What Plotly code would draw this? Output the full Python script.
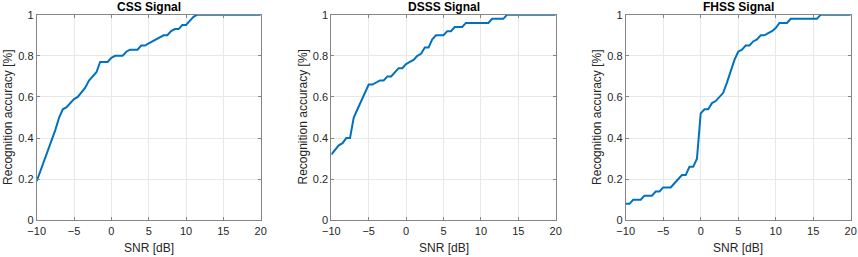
import plotly.graph_objects as go

snr = [-10, -9.5, -9, -8.5, -8, -7.5, -7, -6.5, -6, -5.5, -5, -4.5, -4, -3.5, -3, -2.5, -2, -1.5, -1, -0.5,
       0, 0.5, 1, 1.5, 2, 2.5, 3, 3.5, 4, 4.5, 5, 5.5, 6, 6.5, 7, 7.5, 8, 8.5, 9, 9.5,
       10, 10.5, 11, 11.5, 12, 12.5, 13, 13.5, 14, 14.5, 15, 15.5, 16, 16.5, 17, 17.5, 18, 18.5, 19, 19.5, 20]

css = [0.19, 0.24, 0.29, 0.34, 0.385, 0.44, 0.50, 0.54, 0.55, 0.57, 0.59, 0.60, 0.62, 0.645, 0.68, 0.70, 0.72, 0.77, 0.77, 0.77,
       0.79, 0.80, 0.80, 0.80, 0.82, 0.83, 0.83, 0.83, 0.85, 0.85, 0.86, 0.87, 0.88, 0.89, 0.90, 0.90, 0.92, 0.93, 0.93, 0.95,
       0.95, 0.97, 0.99, 1, 1, 1, 1, 1, 1, 1, 1, 1, 1, 1, 1, 1, 1, 1, 1, 1, 1]

dsss = [0.32, 0.345, 0.365, 0.375, 0.40, 0.40, 0.50, 0.54, 0.58, 0.62, 0.66, 0.66, 0.67, 0.68, 0.68, 0.70, 0.70, 0.72, 0.74, 0.74,
        0.76, 0.77, 0.78, 0.80, 0.81, 0.84, 0.84, 0.88, 0.90, 0.90, 0.90, 0.92, 0.92, 0.94, 0.94, 0.94, 0.96, 0.96, 0.96, 0.96,
        0.96, 0.96, 0.96, 0.98, 0.98, 0.98, 0.98, 1, 1, 1, 1, 1, 1, 1, 1, 1, 1, 1, 1, 1, 1]

fhss = [0.08, 0.08, 0.10, 0.10, 0.10, 0.12, 0.12, 0.12, 0.14, 0.14, 0.16, 0.16, 0.16, 0.18, 0.20, 0.22, 0.22, 0.26, 0.26, 0.30,
        0.52, 0.54, 0.54, 0.57, 0.58, 0.60, 0.62, 0.67, 0.73, 0.78, 0.82, 0.83, 0.85, 0.85, 0.87, 0.88, 0.90, 0.90, 0.91, 0.92,
        0.935, 0.96, 0.96, 0.96, 0.98, 0.98, 0.98, 0.98, 0.98, 0.98, 0.98, 0.98, 1, 1, 1, 1, 1, 1, 1, 1, 1]

titles = ["CSS Signal", "DSSS Signal", "FHSS Signal"]
series = [css, dsss, fhss]
x_ticks = [-10, -5, 0, 5, 10, 15, 20]
y_ticks = [0, 0.2, 0.4, 0.6, 0.8, 1]
y_tick_text = ["0", "0.2", "0.4", "0.6", "0.8", "1"]
x_label = "SNR [dB]"
y_label = "Recognition accuracy [%]"

W, H = 858, 257
x_domains_px = [(36.7, 260.7), (331.3, 555.7), (625.7, 850.7)]
y_top_px, y_bot_px = 14.7, 220.3
y_domain = [1 - y_bot_px / H, 1 - y_top_px / H]

FONT = "Arial, 'Liberation Sans', Helvetica, sans-serif"
TXT = "#262626"
AXC = "#858585"
GRID = "#e8e8e8"

fig = go.Figure()
annotations = []
for i, (name, vals) in enumerate(zip(titles, series)):
    n = "" if i == 0 else str(i + 1)
    fig.add_trace(go.Scatter(x=snr, y=vals, mode="lines",
                             line=dict(color="#0072BD", width=2),
                             xaxis="x" + n, yaxis="y" + n, showlegend=False))
    x0, x1 = x_domains_px[i]
    common = dict(showline=True, linecolor=AXC, linewidth=1, mirror="ticks",
                  ticks="inside", ticklen=3, tickcolor=AXC, automargin=False,
                  showgrid=True, gridcolor=GRID, gridwidth=1, zeroline=False,
                  tickfont=dict(family=FONT, size=11, color=TXT))
    fig.update_layout(**{
        "xaxis" + n: dict(domain=[x0 / W, x1 / W], range=[-10, 20],
                          tickvals=x_ticks, anchor="y" + n, **common),
        "yaxis" + n: dict(domain=y_domain, range=[0, 1], tickvals=y_ticks,
                          ticktext=y_tick_text, anchor="x" + n, **common),
    })
    cx = (x0 + x1) / 2 / W
    annotations.append(dict(text="<b>" + name + "</b>", x=cx, y=1 - 6.5 / H,
                            xref="paper", yref="paper", showarrow=False,
                            xanchor="center", yanchor="middle",
                            font=dict(family=FONT, size=12, color="#000000")))
    annotations.append(dict(text=x_label, x=cx, y=1 - 247.5 / H,
                            xref="paper", yref="paper", showarrow=False,
                            xanchor="center", yanchor="middle",
                            font=dict(family=FONT, size=12, color=TXT)))
    annotations.append(dict(text=y_label, x=(x0 - 29.3) / W,
                            y=(y_domain[0] + y_domain[1]) / 2,
                            xref="paper", yref="paper", showarrow=False,
                            textangle=-90, xanchor="center", yanchor="middle",
                            font=dict(family=FONT, size=12, color=TXT)))

fig.update_layout(width=W, height=H,
                  margin=dict(l=0, r=0, t=0, b=0, pad=0, autoexpand=False),
                  paper_bgcolor="white", plot_bgcolor="white",
                  annotations=annotations)

fig.write_html("out.html",
               config={"displayModeBar": False},
               post_script="document.body.style.margin='0px';document.body.style.padding='0px';document.body.style.overflow='hidden';")
